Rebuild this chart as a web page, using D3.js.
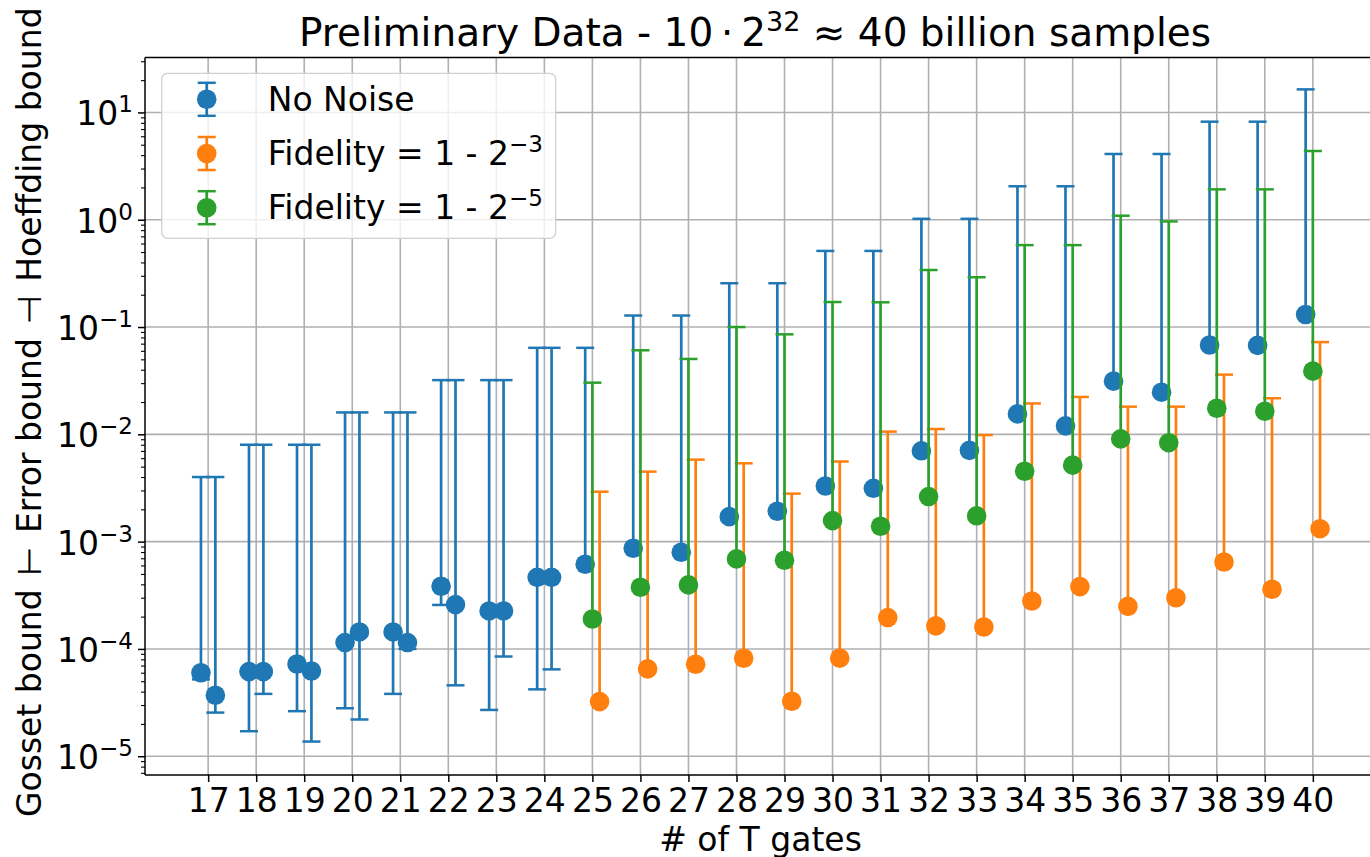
<!DOCTYPE html>
<html>
<head>
<meta charset="utf-8">
<script src="https://cdn.jsdelivr.net/npm/d3@7"></script>
<style>
body { margin: 0; background: #fff; }
svg text { font-family: "DejaVu Sans", sans-serif; fill: #000; }
</style>
</head>
<body>
<svg id="chart" width="1370" height="857"></svg>
<script>
var tGates = [17, 18, 19, 20, 21, 22, 23, 24, 25, 26, 27, 28, 29, 30, 31, 32, 33, 34, 35, 36, 37, 38, 39, 40];

// No Noise, first run (all gate counts)
var noNoiseVal = [6.0e-5, 6.15e-5, 7.24e-5, 1.146e-4, 1.44e-4, 3.84e-4, 2.26e-4, 4.65e-4,
	6.15e-4, 8.67e-4, 7.96e-4, 1.71e-3, 1.92e-3, 3.3e-3, 3.14e-3, 7.02e-3,
	7.08e-3, 1.55e-2, 1.2e-2, 3.13e-2, 2.47e-2, 6.8e-2, 6.74e-2, 0.131];
var noNoiseHoeffding = [4.0e-3, 8.0e-3, 8.0e-3, 1.6e-2, 1.6e-2, 3.2e-2, 3.2e-2, 6.4e-2,
	6.4e-2, 0.128, 0.128, 0.256, 0.256, 0.512, 0.512, 1.02,
	1.02, 2.05, 2.05, 4.1, 4.1, 8.2, 8.2, 16.4];
var noNoiseGosset = [5.2e-5, 1.71e-5, 2.63e-5, 2.8e-5, 3.81e-5, 2.57e-4, 2.7e-5, 4.2e-5,
	null, null, null, null, null, null, null, null,
	null, null, null, null, null, null, null, null];

// No Noise, second run (17..24 only)
var noNoise2Gates = [17, 18, 19, 20, 21, 22, 23, 24];
var noNoise2Val = [3.7e-5, 6.15e-5, 6.23e-5, 1.44e-4, 1.146e-4, 2.59e-4, 2.26e-4, 4.65e-4];
var noNoise2Hoeffding = [4.0e-3, 8.0e-3, 8.0e-3, 1.6e-2, 1.6e-2, 3.2e-2, 3.2e-2, 6.4e-2];
var noNoise2Gosset = [2.55e-5, 3.81e-5, 1.37e-5, 2.2e-5, 1.0e-4, 4.58e-5, 8.5e-5, 6.45e-5];

var noisyGates = [25, 26, 27, 28, 29, 30, 31, 32, 33, 34, 35, 36, 37, 38, 39, 40];
// Fidelity = 1 - 2^-3
var fid3Val = [3.23e-5, 6.52e-5, 7.2e-5, 8.18e-5, 3.25e-5, 8.2e-5, 1.96e-4, 1.64e-4,
	1.6e-4, 2.8e-4, 3.81e-4, 2.49e-4, 3.0e-4, 6.46e-4, 3.6e-4, 1.32e-3];
var fid3Hoeffding = [2.92e-3, 4.49e-3, 5.81e-3, 5.37e-3, 2.8e-3, 5.58e-3, 1.06e-2, 1.12e-2,
	9.84e-3, 1.94e-2, 2.23e-2, 1.81e-2, 1.81e-2, 3.6e-2, 2.17e-2, 7.24e-2];
// Fidelity = 1 - 2^-5
var fid5Val = [1.9e-4, 3.76e-4, 3.95e-4, 6.9e-4, 6.7e-4, 1.57e-3, 1.39e-3, 2.63e-3,
	1.74e-3, 4.53e-3, 5.16e-3, 9.08e-3, 8.36e-3, 1.75e-2, 1.64e-2, 3.88e-2];
var fid5Hoeffding = [3.03e-2, 6.07e-2, 5.04e-2, 0.1, 8.55e-2, 0.171, 0.170, 0.34,
	0.291, 0.58, 0.58, 1.09, 0.964, 1.92, 1.92, 4.37];

var yTickExps = [-5, -4, -3, -2, -1, 0, 1];

var colBlue = "#1f77b4", colOrange = "#ff7f0e", colGreen = "#2ca02c";

var plotLeft = 145, plotRight = 1376, plotTop = 57.5, plotBottom = 775;

var x = d3.scaleLinear().domain([15.685, 41.315]).range([plotLeft, plotRight]);
var y = d3.scaleLog().domain([Math.pow(10, -5.175), Math.pow(10, 1.512)]).range([plotBottom, plotTop]);

var svg = d3.select("#chart");

// grid
var grid = svg.append("g").attr("class", "grid");
grid.selectAll("line.gx")
	.data(tGates)
	.enter().append("line")
	.attr("x1", function(d) { return x(d); })
	.attr("x2", function(d) { return x(d); })
	.attr("y1", plotTop)
	.attr("y2", plotBottom)
	.style("stroke", "#b0b0b0")
	.style("stroke-width", 1.6);
grid.selectAll("line.gy")
	.data(yTickExps)
	.enter().append("line")
	.attr("x1", plotLeft)
	.attr("x2", plotRight)
	.attr("y1", function(d) { return y(Math.pow(10, d)); })
	.attr("y2", function(d) { return y(Math.pow(10, d)); })
	.style("stroke", "#b0b0b0")
	.style("stroke-width", 1.6);

// axes
var xAxis = d3.axisBottom(x).tickValues(tGates).tickSize(7).tickPadding(6).tickFormat(d3.format("d"));
var gx = svg.append("g")
	.attr("transform", "translate(0," + plotBottom + ")")
	.call(xAxis);
gx.select(".domain").remove();
gx.selectAll(".tick line").style("stroke", "#000").style("stroke-width", 1.5);
gx.selectAll(".tick text")
	.attr("y", 37)
	.attr("dy", 0)
	.style("font-size", "33px")
	.style("font-family", "DejaVu Sans");

var minorVals = [];
for (var k = -6; k <= 1; k++) {
	for (var m = 2; m <= 9; m++) {
		var v = m * Math.pow(10, k);
		if (v > y.domain()[0] && v < y.domain()[1]) minorVals.push(v);
	}
}
var yMinor = d3.axisLeft(y).tickValues(minorVals).tickSize(4).tickFormat("");
var gyMinor = svg.append("g")
	.attr("transform", "translate(" + plotLeft + ",0)")
	.call(yMinor);
gyMinor.select(".domain").remove();
gyMinor.selectAll(".tick line").style("stroke", "#000").style("stroke-width", 1.1);

var yMajor = d3.axisLeft(y).tickValues(yTickExps.map(function(d) { return Math.pow(10, d); })).tickSize(7).tickFormat("");
var gy = svg.append("g")
	.attr("transform", "translate(" + plotLeft + ",0)")
	.call(yMajor);
gy.select(".domain").remove();
gy.selectAll(".tick line").style("stroke", "#000").style("stroke-width", 1.5);

var yLabels = svg.append("g").selectAll("text")
	.data(yTickExps)
	.enter().append("text")
	.attr("x", plotLeft - 12)
	.attr("y", function(d) { return y(Math.pow(10, d)) + 13; })
	.attr("text-anchor", "end")
	.style("font-size", "33px");
yLabels.append("tspan").text("10");
yLabels.append("tspan")
	.attr("dy", -13)
	.style("font-size", "23px")
	.text(function(d) { return d < 0 ? "\u2212" + (-d) : "" + d; });

// spines
svg.append("line").attr("x1", plotLeft).attr("x2", plotLeft).attr("y1", plotTop).attr("y2", plotBottom)
	.style("stroke", "#000").style("stroke-width", 1.5);
svg.append("line").attr("x1", plotLeft).attr("x2", plotRight).attr("y1", plotBottom).attr("y2", plotBottom)
	.style("stroke", "#000").style("stroke-width", 1.5);
svg.append("line").attr("x1", plotLeft).attr("x2", plotRight).attr("y1", plotTop).attr("y2", plotTop)
	.style("stroke", "#000").style("stroke-width", 1.5);

// error bar series
function makeSeries(gates, vals, his, los, offset) {
	return gates.map(function(g, i) {
		return { x: g + offset, v: vals[i], hi: his[i], lo: los ? los[i] : null };
	});
}

function drawSeries(data, color) {
	var g = svg.append("g");
	g.selectAll("line.bar")
		.data(data)
		.enter().append("line")
		.attr("x1", function(d) { return x(d.x); })
		.attr("x2", function(d) { return x(d.x); })
		.attr("y1", function(d) { return y(d.lo != null ? d.lo : d.v); })
		.attr("y2", function(d) { return y(d.hi); })
		.style("stroke", color)
		.style("stroke-width", 2.7);
	g.selectAll("line.capHi")
		.data(data)
		.enter().append("line")
		.attr("x1", function(d) { return x(d.x) - 9; })
		.attr("x2", function(d) { return x(d.x) + 9; })
		.attr("y1", function(d) { return y(d.hi); })
		.attr("y2", function(d) { return y(d.hi); })
		.style("stroke", color)
		.style("stroke-width", 2.5);
	g.selectAll("line.capLo")
		.data(data.filter(function(d) { return d.lo != null; }))
		.enter().append("line")
		.attr("x1", function(d) { return x(d.x) - 9; })
		.attr("x2", function(d) { return x(d.x) + 9; })
		.attr("y1", function(d) { return y(d.lo); })
		.attr("y2", function(d) { return y(d.lo); })
		.style("stroke", color)
		.style("stroke-width", 2.5);
	g.selectAll("circle")
		.data(data)
		.enter().append("circle")
		.attr("cx", function(d) { return x(d.x); })
		.attr("cy", function(d) { return y(d.v); })
		.attr("r", 9.8)
		.style("fill", color);
}

drawSeries(makeSeries(tGates, noNoiseVal, noNoiseHoeffding, noNoiseGosset, -0.15), colBlue);
drawSeries(makeSeries(noNoise2Gates, noNoise2Val, noNoise2Hoeffding, noNoise2Gosset, 0.15), colBlue);
drawSeries(makeSeries(noisyGates, fid3Val, fid3Hoeffding, null, 0.15), colOrange);
drawSeries(makeSeries(noisyGates, fid5Val, fid5Hoeffding, null, 0), colGreen);

// legend
var legend = svg.append("g").attr("transform", "translate(161.7,73.3)");
legend.append("rect")
	.attr("width", 394)
	.attr("height", 165)
	.attr("rx", 6)
	.style("fill", "#fff")
	.style("fill-opacity", 0.8)
	.style("stroke", "#d0d0d0")
	.style("stroke-width", 1.3);

var legendItems = [
	{ color: colBlue, label: "No Noise", sup: null },
	{ color: colOrange, label: "Fidelity = 1 - 2", sup: "\u22123" },
	{ color: colGreen, label: "Fidelity = 1 - 2", sup: "\u22125" }
];
var li = legend.selectAll("g.item")
	.data(legendItems)
	.enter().append("g")
	.attr("transform", function(d, i) { return "translate(45," + (26 + i * 54.2) + ")"; });
li.append("line").attr("x1", 0).attr("x2", 0).attr("y1", -16.5).attr("y2", 16.5)
	.style("stroke", function(d) { return d.color; }).style("stroke-width", 2.7);
li.append("line").attr("x1", -9).attr("x2", 9).attr("y1", -16.5).attr("y2", -16.5)
	.style("stroke", function(d) { return d.color; }).style("stroke-width", 2.5);
li.append("line").attr("x1", -9).attr("x2", 9).attr("y1", 16.5).attr("y2", 16.5)
	.style("stroke", function(d) { return d.color; }).style("stroke-width", 2.5);
li.append("circle").attr("r", 9.8).style("fill", function(d) { return d.color; });
var lt = li.append("text")
	.attr("x", 61)
	.attr("y", 11.5)
	.style("font-size", "33px");
lt.append("tspan").text(function(d) { return d.label; });
lt.append("tspan")
	.attr("dy", -13)
	.style("font-size", "23px")
	.text(function(d) { return d.sup || ""; });

// titles
var title = svg.append("text")
	.attr("x", 755)
	.attr("y", 46)
	.attr("text-anchor", "middle")
	.style("font-size", "39px");
title.append("tspan").text("Preliminary Data - 10\u2009\u22c5\u20092");
title.append("tspan").attr("dy", -15).style("font-size", "27px").text("32");
title.append("tspan").attr("dy", 15).text(" \u2248 40 billion samples");

svg.append("text")
	.attr("x", (plotLeft + plotRight) / 2)
	.attr("y", 851)
	.attr("text-anchor", "middle")
	.style("font-size", "33px")
	.text("# of T gates");

svg.append("text")
	.attr("transform", "translate(41," + ((plotTop + plotBottom) / 2 - 4) + ") rotate(-90)")
	.attr("text-anchor", "middle")
	.style("font-size", "33px")
	.text("Gosset bound \u200a\u22a2\u200a Error bound \u200a\u22a3\u200a Hoeffding bound");
</script>
</body>
</html>
